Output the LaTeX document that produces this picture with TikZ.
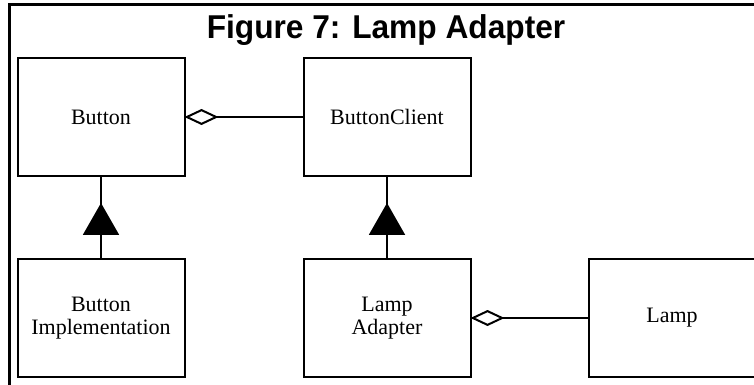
\documentclass[tikz,border=0pt]{standalone}
\usepackage{fontspec}
\setmainfont{Liberation Serif}
\newfontfamily\titlefont{Liberation Sans}
\usetikzlibrary{arrows.meta,decorations.markings}
\begin{document}
\begin{tikzpicture}[x=1pt, y=-1pt,
    cls/.style={draw, line width=2pt, minimum width=167pt, minimum height=118pt, align=center, font=\fontsize{22}{23}\selectfont, outer sep=0pt},
    agg/.style={line width=2pt, -{Diamond[open, length=34pt, width=16pt, fill=white]}},
    inh/.style={line width=2pt, postaction={decorate}, decoration={markings, mark=at position 0.675 with {\arrow{Triangle[length=32pt, width=36pt]}}}}]
\useasboundingbox (0,0) rectangle (754,385);
% frame and title
\draw[line width=3pt] (770,5) -- (9,5) -- (9,400);
\node[xscale=0.96] (title) at (386,30) {\titlefont\bfseries\fontsize{33}{36}\selectfont Figure 7: Lamp Adapter};
% classes
\node[cls] (btn) at (101,117) {Button};
\node[cls] (bclient) at (387,117) {ButtonClient};
\node[cls] (bimpl) at (101,318) {Button\\Implementation};
\node[cls] (ladapter) at (387,318) {Lamp\\Adapter};
\node[cls] (lamp) at (672,318) {Lamp};
% relations
\draw[agg] (bclient.west) -- (btn.east);
\draw[agg] (lamp.west) -- (ladapter.east);
\draw[inh] (bimpl.north) -- (btn.south);
\draw[inh] (ladapter.north) -- (bclient.south);
\end{tikzpicture}
\end{document}
